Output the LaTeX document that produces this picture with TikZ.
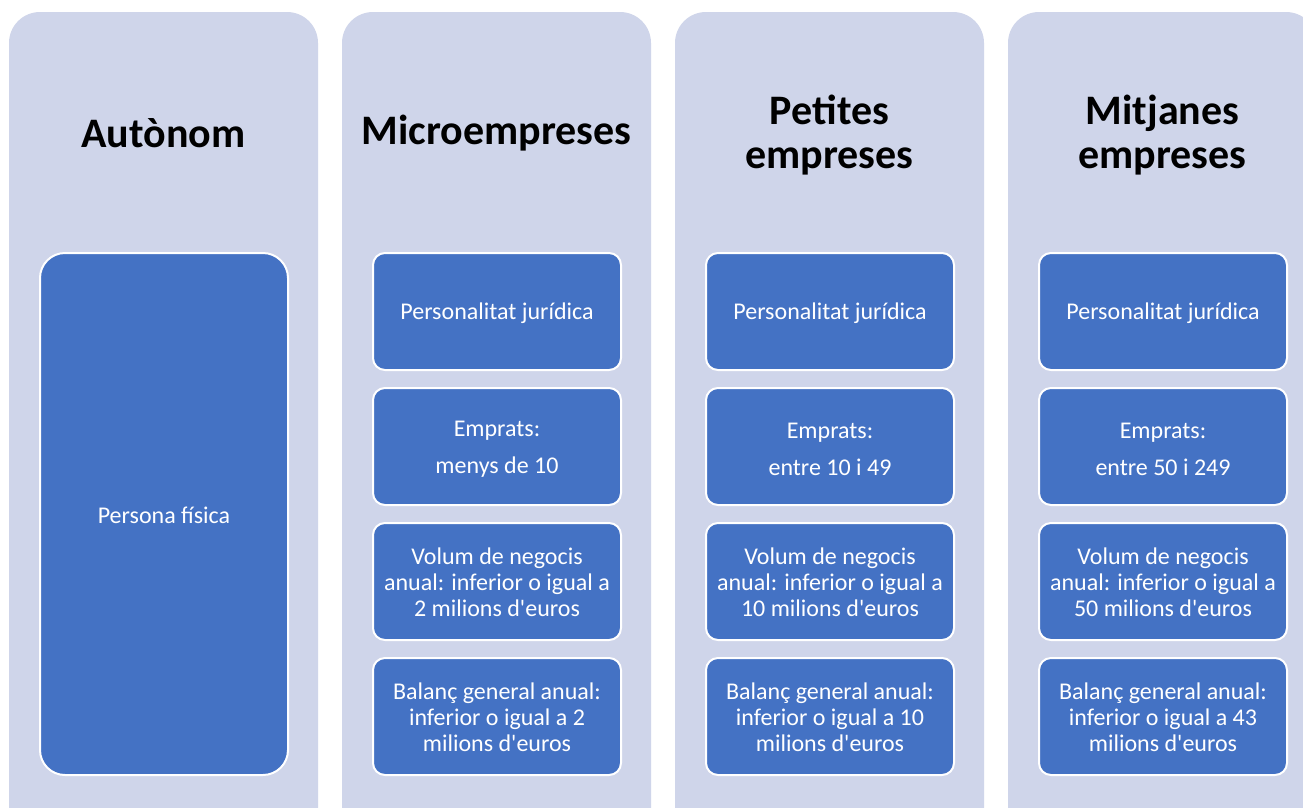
\documentclass[tikz,border=0pt]{standalone}
\usepackage{fontspec}
\setmainfont{Carlito}[Ligatures=TeXOff]
\definecolor{colbg}{RGB}{207,213,234}
\definecolor{boxblue}{RGB}{68,114,196}
\begin{document}
\begin{tikzpicture}[x=1pt,y=-1pt,
  column/.style={fill=colbg,draw=none,rounded corners=31pt},
  bigbox/.style={fill=boxblue,draw=white,line width=2pt,rounded corners=25pt},
  smallbox/.style={fill=boxblue,draw=white,line width=2pt,rounded corners=12pt},
  boxtext/.style={text=white,align=center,font=\fontsize{24}{26}\selectfont,inner sep=0pt},
  title/.style={text=black,align=center,font=\fontsize{42}{44}\selectfont\bfseries,inner sep=0pt}]
\useasboundingbox (0,0) rectangle (1303,807);
\fill[white] (0,0) rectangle (1303,807);
\begin{scope}
\clip (0,0) rectangle (1303,807);
\foreach \x/\n in {9/c1,342/c2,675/c3,1008/c4}{
  \path[column] (\x,12) rectangle ++(309,830);
}
\end{scope}
% titles
\node[title] (t1) at (163.5,133) {Autònom};
\node[title] (t2) at (496.5,133) {Microempreses};
\node[title] (t3) at (829.5,135) {Petites\\empreses};
\node[title] (t4) at (1162.5,135) {Mitjanes\\empreses};
% column 1
\draw[bigbox] (40,253) rectangle (288,775);
\node[boxtext] (pf) at (164,515) {Persona física};
% other columns
\foreach \x/\n/\emp/\vol/\bal in {
  373/a/{menys de 10}/{2 milions d'euros}/{inferior o igual a 2\\milions d'euros},
  706/b/{entre 10 i 49}/{10 milions d'euros}/{inferior o igual a 10\\milions d'euros},
  1039/c/{entre 50 i 249}/{50 milions d'euros}/{inferior o igual a 43\\milions d'euros}}{
  \draw[smallbox] (\x,253) rectangle ++(248,117);
  \node[boxtext] (p\n) at (\x+124,313) {Personalitat jurídica};
  \draw[smallbox] (\x,388) rectangle ++(248,117);
  \node[boxtext] (e\n) at (\x+124,449) {Emprats:\\[11pt]\emp};
  \draw[smallbox] (\x,523) rectangle ++(248,117);
  \node[boxtext] (v\n) at (\x+124,582.5) {Volum de negocis\\anual: inferior o igual a\\\vol};
  \draw[smallbox] (\x,658) rectangle ++(248,117);
  \node[boxtext] (g\n) at (\x+124,717.5) {Balanç general anual:\\\bal};
}
\end{tikzpicture}
\end{document}
